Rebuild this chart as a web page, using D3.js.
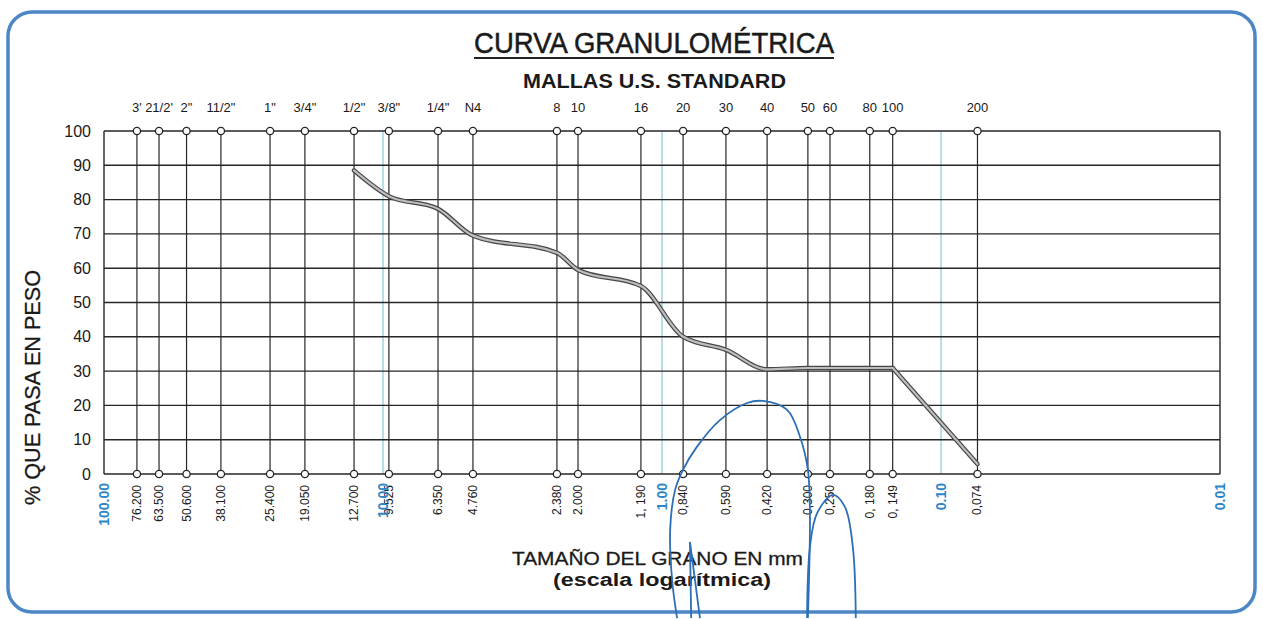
<!DOCTYPE html>
<html>
<head>
<meta charset="utf-8">
<title>Curva granulometrica</title>
<script src="https://d3js.org/d3.v7.min.js"></script>
<style>
  body { margin: 0; background: #fff; }
  text { font-family: "Liberation Sans", Arial, sans-serif; fill: #1a1a1a; }
</style>
</head>
<body>
<svg width="1263" height="619"></svg>
<script>
// mallas U.S. standard
const sieveLabels = ["3'", "21/2'", '2"', '11/2"', '1"', '3/4"', '1/2"', '3/8"', '1/4"', "N4",
  "8", "10", "16", "20", "30", "40", "50", "60", "80", "100", "200"];
const sieveMm = [76.2, 63.5, 50.6, 38.1, 25.4, 19.05, 12.7, 9.525, 6.35, 4.76,
  2.38, 2.0, 1.19, 0.84, 0.59, 0.42, 0.30, 0.25, 0.18, 0.149, 0.074];
const sizeLabels = ["76.200", "63.500", "50.600", "38.100", "25.400", "19.050", "12.700", "9.525", "6.350", "4.760",
  "2.380", "2.000", "1, 190", "0,840", "0,590", "0,420", "0,300", "0,250", "0, 180", "0, 149", "0,074"];
const decadeMm = [100, 10, 1, 0.1, 0.01];
const decadeLabels = ["100.00", "10.00", "1.00", "0.10", "0.01"];
const pctTicks = [0, 10, 20, 30, 40, 50, 60, 70, 80, 90, 100];

// % que pasa
const passMm = [12.7, 9.525, 6.35, 4.76, 2.38, 2.0, 1.19, 0.84, 0.59, 0.42, 0.30, 0.25, 0.18, 0.149, 0.074];
const passPct = [88.5, 81, 77.3, 69.5, 64.5, 59.5, 54.8, 40, 36.2, 30.5, 30.9, 30.9, 30.9, 30.9, 2.9];

// blue pen marks on the printout, in chart units [mm, %]
const penArc1 = [[0.883, -42], [0.920, -30.9], [0.935, -16.3], [0.898, -4.7], [0.841, 1.2], [0.750, 7.9],
  [0.620, 15.7], [0.496, 20.7], [0.435, 21.3], [0.356, 18.7], [0.320, 10.8], [0.300, 1.2], [0.295, -11.4], [0.300, -42]];
const penArc2 = [[0.302, -42], [0.295, -21.3], [0.278, -11.4], [0.244, -6.1], [0.221, -9.6], [0.207, -21.3], [0.202, -42]];
const penTick = [[0.786, -42], [0.794, -19.8], [0.731, -42]];

const svg = d3.select("svg");
const x = d3.scaleLog().domain([100, 0.01]).range([104, 1220]);
const y = d3.scaleLinear().domain([0, 100]).range([474, 131]);

// frame
svg.append("rect")
  .attr("x", 8).attr("y", 12).attr("width", 1247).attr("height", 600)
  .attr("rx", 24)
  .attr("fill", "none").attr("stroke", "#4b87c5").attr("stroke-width", 3.5);

// titles
svg.append("text").attr("x", 474).attr("y", 53)
  .attr("textLength", 360).attr("lengthAdjust", "spacingAndGlyphs")
  .style("font-size", "30px").style("stroke", "#1a1a1a").style("stroke-width", 0.5)
  .text("CURVA GRANULOMÉTRICA");
svg.append("line").attr("x1", 474).attr("x2", 834).attr("y1", 58).attr("y2", 58)
  .attr("stroke", "#222").attr("stroke-width", 2);
svg.append("text").attr("x", 523).attr("y", 88)
  .attr("textLength", 263).attr("lengthAdjust", "spacingAndGlyphs")
  .style("font-size", "20px").style("font-weight", "bold")
  .text("MALLAS U.S. STANDARD");

// light decade lines
svg.append("g").selectAll("line").data(decadeMm.slice(1, 4)).enter().append("line")
  .attr("x1", d => x(d)).attr("x2", d => x(d))
  .attr("y1", y(100)).attr("y2", y(0))
  .attr("stroke", "#a9d6e2").attr("stroke-width", 1.6);

// horizontal grid
svg.append("g").selectAll("line").data(pctTicks).enter().append("line")
  .attr("x1", x(100)).attr("x2", x(0.01))
  .attr("y1", d => y(d)).attr("y2", d => y(d))
  .attr("stroke", "#262626").attr("stroke-width", 1.4);

// borders
svg.append("g").selectAll("line").data([100, 0.01]).enter().append("line")
  .attr("x1", d => x(d)).attr("x2", d => x(d))
  .attr("y1", y(100)).attr("y2", y(0))
  .attr("stroke", "#262626").attr("stroke-width", 1.4);

// sieve lines
svg.append("g").selectAll("line").data(sieveMm).enter().append("line")
  .attr("x1", d => x(d)).attr("x2", d => x(d))
  .attr("y1", y(100)).attr("y2", y(0))
  .attr("stroke", "#262626").attr("stroke-width", 1.2);

// y tick labels
svg.append("g").selectAll("text").data(pctTicks).enter().append("text")
  .attr("x", 91).attr("y", d => y(d) + 5.5)
  .attr("text-anchor", "end")
  .style("font-size", "16px")
  .text(d => d);

// sieve names on top
svg.append("g").selectAll("text").data(sieveMm).enter().append("text")
  .attr("x", d => x(d)).attr("y", 112)
  .attr("text-anchor", "middle")
  .style("font-size", "13px")
  .text((d, i) => sieveLabels[i]);

// mm labels at bottom
svg.append("g").selectAll("text").data(sieveMm).enter().append("text")
  .attr("transform", d => "translate(" + (x(d) + 4) + ",485) rotate(-90)")
  .attr("text-anchor", "end")
  .style("font-size", "12px")
  .text((d, i) => sizeLabels[i]);
svg.append("g").selectAll("text").data(decadeMm).enter().append("text")
  .attr("transform", d => "translate(" + (x(d) + 5) + ",483) rotate(-90)")
  .attr("text-anchor", "end")
  .style("font-size", "14px").style("font-weight", "bold")
  .style("fill", "#2f86c6")
  .text((d, i) => decadeLabels[i]);

// curve
const line = d3.line().x(d => x(d[0])).y(d => y(d[1]));
const pts = passMm.map((d, i) => [d, passPct[i]]);
const curve = svg.append("g");
[["#474747", 4.6], ["#bdbdbd", 2.2]].forEach(s => {
  curve.append("path").datum(pts.slice(0, pts.length - 1))
    .attr("d", line.curve(d3.curveMonotoneX))
    .attr("fill", "none").attr("stroke", s[0]).attr("stroke-width", s[1]).attr("stroke-linecap", "round");
  curve.append("path").datum(pts.slice(pts.length - 2))
    .attr("d", line.curve(d3.curveLinear))
    .attr("fill", "none").attr("stroke", s[0]).attr("stroke-width", s[1]).attr("stroke-linecap", "round");
});

// sieve circles
[100, 0].forEach(v => {
  svg.append("g").selectAll("circle").data(sieveMm).enter().append("circle")
    .attr("cx", d => x(d)).attr("cy", y(v)).attr("r", 3.6)
    .attr("fill", "#fff").attr("stroke", "#262626").attr("stroke-width", 1.3);
});

// axis titles
svg.append("text").attr("x", 512).attr("y", 565)
  .attr("textLength", 291).attr("lengthAdjust", "spacingAndGlyphs")
  .style("font-size", "19px").style("stroke", "#1a1a1a").style("stroke-width", 0.3)
  .text("TAMAÑO DEL GRANO EN mm");
svg.append("text").attr("x", 553).attr("y", 586)
  .attr("textLength", 218).attr("lengthAdjust", "spacingAndGlyphs")
  .style("font-size", "18px").style("font-weight", "bold")
  .text("(escala logarítmica)");
svg.append("text")
  .attr("transform", "translate(40,505) rotate(-90)")
  .attr("textLength", 235).attr("lengthAdjust", "spacingAndGlyphs")
  .style("font-size", "22px").style("stroke", "#1a1a1a").style("stroke-width", 0.3)
  .text("% QUE PASA EN PESO");

// pen marks
const pen = d3.line().x(d => x(d[0])).y(d => y(d[1])).curve(d3.curveCatmullRom);
[penArc1, penArc2].forEach(a => {
  svg.append("path").datum(a).attr("d", pen)
    .attr("fill", "none").attr("stroke", "#2c6fb8").attr("stroke-width", 1.8);
});
svg.append("path").datum(penTick).attr("d", d3.line().x(d => x(d[0])).y(d => y(d[1])))
  .attr("fill", "none").attr("stroke", "#2c6fb8").attr("stroke-width", 1.8);
</script>
</body>
</html>
